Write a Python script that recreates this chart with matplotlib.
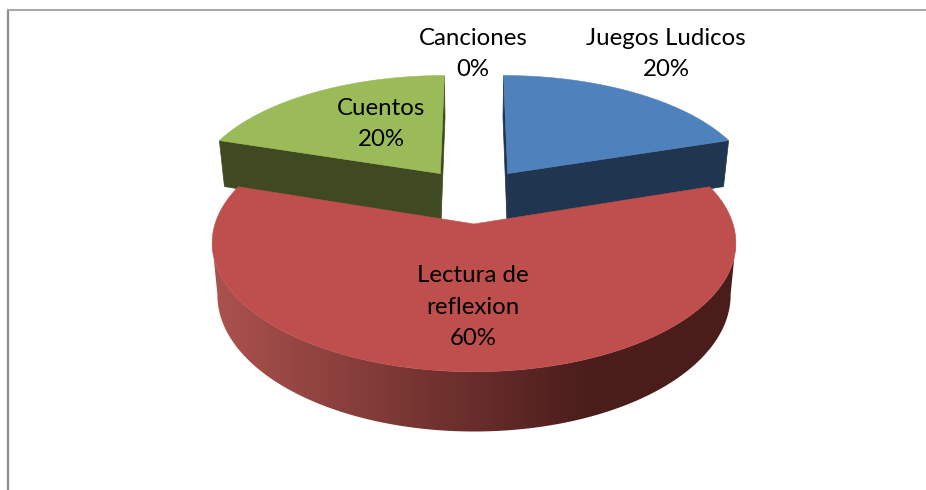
import numpy as np
import matplotlib
matplotlib.use("Agg")
import matplotlib.pyplot as plt
from matplotlib.colors import LinearSegmentedColormap
from matplotlib.patches import Polygon

categories = ["Juegos Ludicos", "Lectura de\nreflexion", "Cuentos", "Canciones"]
percentages = [20, 60, 20, 0]
top_colors = ["#4F81BD", "#BE4F4C", "#9BBB59", "#8064A2"]
side_colors = ["#1F3550", "#4A1D1B", "#3F4A22", "#3A2D4A"]
label_centers = [(666, 54), (473, 307), (381, 124), (473, 54)]

# pie geometry in pixels, fitted to the picture
ORIGIN_X, ORIGIN_Y = 474, 224
SCALE_X, SCALE_Y = 259, 126
PERSP = 0.147
EXPLODE = 0.235
DEPTH = 51
BOTTOM_SHRINK = 0.98


def project(x, y, bottom=False):
    """Disc coordinates to pixels, with a little perspective."""
    w = 1 + PERSP * y
    px = ORIGIN_X + SCALE_X * x / w
    py = ORIGIN_Y - SCALE_Y * y / w
    if bottom:
        px = ORIGIN_X + BOTTOM_SHRINK * (px - ORIGIN_X)
        py = py + DEPTH / w
    return np.column_stack([px, py])


def wedge_points(start, end, offset, bottom=False):
    angles = np.linspace(start, end, 240)
    x = offset[0] + np.sin(angles)
    y = offset[1] + np.cos(angles)
    rim = project(x, y, bottom)
    apex = project(np.array([offset[0]]), np.array([offset[1]]), bottom)
    return apex, rim


fig = plt.figure(figsize=(9.26, 4.90), dpi=100)
ax = fig.add_axes([0, 0, 1, 1])
ax.set_xlim(0, 926)
ax.set_ylim(490, 0)
ax.axis("off")

# chart frame, only top and left show
ax.plot([8, 8], [490, 10], color="#8C8C8C", lw=1.6, zorder=1)
ax.plot([8, 926], [10, 10], color="#A6A6A6", lw=1.4, zorder=1)

shares = np.array(percentages) / sum(percentages)
ends = np.cumsum(shares) * 2 * np.pi
starts = ends - shares * 2 * np.pi

for i, share in enumerate(shares):
    if share == 0:
        continue
    start, end = starts[i], ends[i]
    mid = (start + end) / 2
    offset = (EXPLODE * np.sin(mid), EXPLODE * (1 + np.cos(mid)))
    apex, rim = wedge_points(start, end, offset)
    apex_b, rim_b = wedge_points(start, end, offset, bottom=True)
    z = 5 if share > 0.5 else 3

    if share > 0.5:
        # outer wall with the horizontal shading, cut at the widest points
        right, left = np.argmax(rim[:, 0]), np.argmin(rim[:, 0])
        wall = Polygon(
            np.vstack([rim[right:left + 1], rim_b[right:left + 1][::-1]]),
            closed=True, fc="none", ec="none",
        )
        ax.add_patch(wall)
        shade = LinearSegmentedColormap.from_list(
            "wall", [(0, "#AC524E"), (0.72, side_colors[i]), (1, side_colors[i])]
        )
        im = ax.imshow(
            np.linspace(0, 1, 256).reshape(1, -1),
            cmap=shade,
            extent=(212, 736, 435, 180),
            aspect="auto",
            zorder=z,
        )
        im.set_clip_path(wall)
    else:
        # the two cut faces
        for k in (0, -1):
            face = np.vstack([apex, rim[[k]], rim_b[[k]], apex_b])
            ax.add_patch(Polygon(face, closed=True, fc=side_colors[i], ec=side_colors[i], lw=0.5, zorder=z))

    ax.add_patch(
        Polygon(np.vstack([apex, rim]), closed=True, fc=top_colors[i], ec=top_colors[i], lw=0.4, zorder=z + 1)
    )

ax.set_xlim(0, 926)
ax.set_ylim(490, 0)

for name, pct, (lx, ly) in zip(categories, percentages, label_centers):
    ax.text(
        lx, ly, f"{name}\n{pct}%",
        ha="center", va="center", ma="center",
        family="Lato", fontsize=17.3, linespacing=1.63, color="black", zorder=10,
    )

fig.savefig("out.png", dpi=100)
